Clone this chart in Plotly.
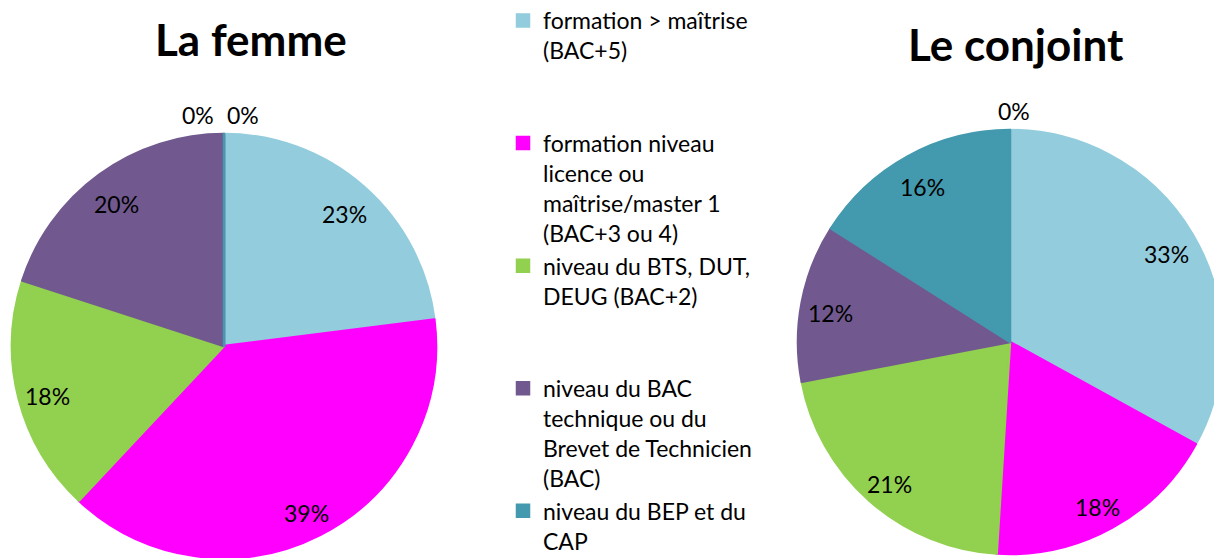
import math
import plotly.graph_objects as go

# ---- data ----
categories = [
    "formation &gt; maîtrise<br>(BAC+5)",
    "formation niveau<br>licence ou<br>maîtrise/master 1<br>(BAC+3 ou 4)",
    "niveau du BTS, DUT,<br>DEUG (BAC+2)",
    "niveau du BAC<br>technique ou du<br>Brevet de Technicien<br>(BAC)",
    "niveau du BEP et du<br>CAP",
]
femme_values = [23, 39, 18, 20, 0]
conjoint_values = [33, 18, 21, 12, 16]
# a further category lies below the cropped legend; it is 0 % in both pies
hidden_femme = [0]
hidden_conjoint = [0]
titles = ["La femme", "Le conjoint"]
colors = ["#93CDDD", "#FF00FF", "#92D050", "#71598F", "#4399AE"]

# ---- layout helpers (page pixels; the page body adds an 8 px margin) ----
OFF = 8
W, H = 1222 - OFF, 558 - OFF
FONT = "Lato"

def xp(px):
    return (px - OFF) / W

def yp(py):
    return 1 - (py - OFF) / H

# every legend entry gets the same number of lines so the entries are evenly spaced
LINES = 4
labels = [c + "<br> " * (LINES - 1 - c.count("<br>")) for c in categories]

# pie geometry: centre and radius in page pixels
pies = [
    dict(cx=224, cy=346, r=212),
    dict(cx=1010, cy=342, r=212),
]

def domain(g):
    return dict(x=[max(0, xp(g["cx"] - g["r"])), min(1, xp(g["cx"] + g["r"]))],
                y=[max(0, yp(g["cy"] + g["r"])), min(1, yp(g["cy"] - g["r"]))])

def pie(values, g, name):
    return go.Pie(
        labels=labels,
        values=values,
        name=name,
        domain=domain(g),
        sort=False,
        direction="clockwise",
        rotation=0,
        textinfo="none",
        marker=dict(colors=colors, line=dict(color=colors, width=2.5)),
        hoverinfo="label+percent",
    )

fig = go.Figure()
fig.add_trace(pie(femme_values, pies[0], titles[0]))
fig.add_trace(pie(conjoint_values, pies[1], titles[1]))

annotations = []
# titles
title_pos = [(251, 39), (1016, 44)]
for t, (tx, ty) in zip(titles, title_pos):
    annotations.append(dict(x=xp(tx), y=yp(ty), xref="paper", yref="paper",
                            xanchor="center", yanchor="middle",
                            text="<b>" + t + "</b>", showarrow=False,
                            font=dict(family=FONT, size=44, color="black")))

# percentage labels, placed along each slice's mid-angle
def slice_labels(values, extra, g, zero_offsets):
    total = sum(values)
    cum = 0
    zeros = []
    for v in values:
        mid = (cum + v / 2) / total * 2 * math.pi
        cum += v
        if v == 0:
            zeros.append(v)
            continue
        rr = 0.86 * g["r"]
        annotations.append(dict(x=xp(g["cx"] + rr * math.sin(mid)),
                                y=yp(g["cy"] - rr * math.cos(mid) + 5),
                                xref="paper", yref="paper",
                                xanchor="center", yanchor="middle",
                                text=f"{round(100 * v / total)}%", showarrow=False,
                                font=dict(family=FONT, size=23, color="black")))
    zeros += [v for v in extra if v == 0]
    for v, dx in zip(zeros, zero_offsets[len(zeros)]):
        annotations.append(dict(x=xp(g["cx"] + dx), y=yp(g["cy"] - 1.09 * g["r"]),
                                xref="paper", yref="paper",
                                xanchor="center", yanchor="middle",
                                text=f"{v}%", showarrow=False,
                                font=dict(family=FONT, size=23, color="black")))

slice_labels(femme_values, hidden_femme, pies[0], {1: [0], 2: [-26, 19]})
slice_labels(conjoint_values, hidden_conjoint, pies[1], {1: [4], 2: [-26, 19]})

fig.update_layout(
    width=W, height=H,
    margin=dict(l=0, r=0, t=0, b=0, autoexpand=False),
    paper_bgcolor="white",
    plot_bgcolor="white",
    showlegend=True,
    legend=dict(x=xp(503), y=yp(-1), xanchor="left", yanchor="top",
                valign="top", bgcolor="rgba(0,0,0,0)", maxheight=2000,
                font=dict(family=FONT, size=23, color="black")),
    annotations=annotations,
)

fig.write_html("out.html")
